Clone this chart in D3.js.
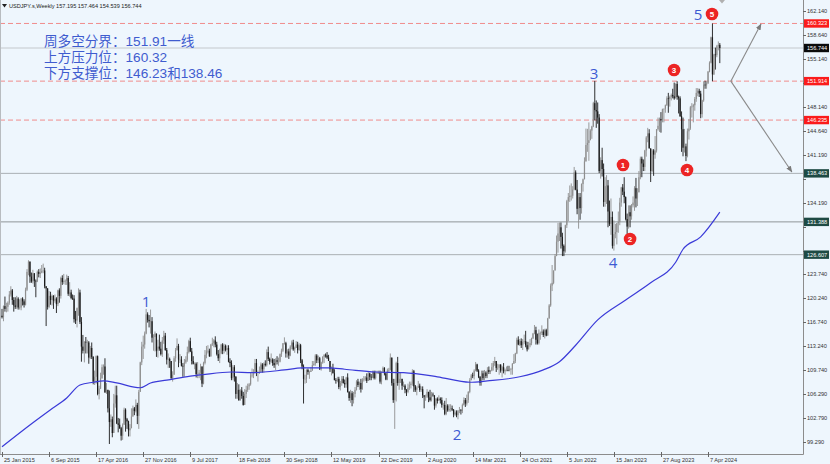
<!DOCTYPE html>
<html><head><meta charset="utf-8">
<script src="https://cdn.jsdelivr.net/npm/d3@7"></script>
<style>
html,body{margin:0;padding:0;background:#eef6fd;}
svg{display:block;}
</style></head><body>
<svg id="c" width="830" height="464"></svg>
<script>
// ---------------- data ----------------
const symbolTitle = "USDJPY.s,Weekly";
const lastOHLC = [157.195, 157.464, 154.539, 156.744];
const firstOpen = 117.7;
// weekly candles per year: [high, low, close]
const w2015 = [[118.7,117.3,117.5],[119.2,116.9,119.1],[120.5,118.3,118.7],[119.6,118.2,119.0],[119.8,118.3,119.6],[121.3,119.3,120.8],[122.0,120.5,121.4],[121.6,119.3,120.0],[120.4,118.3,119.2],[120.4,118.7,119.0],[120.6,118.7,120.2],[120.4,118.6,118.9],[120.1,118.6,118.9],[120.3,118.5,120.2],[120.4,119.2,119.8],[120.1,118.9,119.3],[121.8,119.2,121.5],[124.5,121.3,124.1],[125.8,123.6,125.6],[125.6,122.5,123.4],[124.0,122.5,122.7],[124.4,122.4,123.9],[123.9,121.9,122.8],[123.0,120.4,122.7],[124.3,122.6,124.1],[124.5,123.3,123.8],[124.6,123.2,124.0],[125.1,123.9,124.2],[125.3,123.9,124.3],[124.7,121.7,122.0],[122.0,116.2,121.7],[121.7,118.6,119.0],[121.3,118.8,120.6],[121.2,119.3,120.0],[120.8,119.2,120.6],[120.7,118.7,119.9],[120.8,119.6,120.2],[120.4,118.1,119.4],[121.5,119.1,121.4],[121.7,119.6,120.6],[123.4,120.2,123.2],[123.6,122.2,122.6],[123.8,122.3,122.8],[123.0,122.2,122.8],[123.7,122.2,123.2],[123.5,120.6,120.9],[122.6,120.5,121.1],[121.5,120.1,120.3],[120.8,120.0,120.2]];
const w2016 = [[120.7,116.7,117.2],[118.4,116.5,117.0],[118.9,116.0,118.8],[121.7,117.7,121.1],[121.5,116.5,116.8],[117.5,111.0,113.2],[114.9,112.2,112.6],[114.0,110.9,113.9],[114.6,112.2,113.8],[114.2,112.2,113.8],[114.0,110.7,111.6],[113.3,111.4,113.0],[113.8,111.4,111.7],[111.8,107.7,108.1],[109.7,107.6,108.8],[111.9,107.8,111.8],[111.9,106.1,106.3],[107.5,105.5,107.1],[109.4,107.0,108.6],[110.6,108.5,110.2],[110.6,109.1,110.3],[111.5,106.5,106.5],[107.9,106.3,106.9],[106.9,103.6,104.2],[106.8,99.0,102.2],[103.3,101.5,102.6],[103.0,99.98,100.6],[106.3,100.7,104.9],[107.5,104.3,106.1],[107.5,101.9,102.0],[102.8,100.7,101.8],[102.7,101.2,101.3],[101.5,99.5,100.2],[102.0,99.6,101.8],[104.3,101.8,104.0],[104.2,100.8,102.6],[102.8,101.2,102.3],[102.4,100.1,101.0],[101.9,100.1,101.3],[104.2,101.3,103.0],[104.6,103.0,104.2],[104.4,103.2,103.8],[105.5,103.6,104.7],[105.0,101.9,103.1],[106.9,101.2,106.6],[111.0,106.6,110.9],[113.9,110.5,113.2],[114.8,111.4,113.5],[115.4,112.9,115.1],[118.7,115.0,117.9],[118.2,116.7,117.1],[117.8,116.0,116.9]];
const w2017 = [[118.6,115.1,116.9],[117.5,113.8,114.5],[115.0,112.6,114.6],[115.4,112.5,115.1],[115.0,111.7,112.6],[114.2,111.6,113.2],[114.95,112.6,112.9],[113.9,111.9,112.1],[114.6,111.7,114.1],[115.5,113.6,114.8],[115.2,112.6,112.7],[113.0,110.6,111.3],[112.2,110.1,111.4],[111.6,110.1,111.1],[111.1,108.5,108.6],[109.6,108.1,109.1],[111.8,109.6,111.5],[113.0,111.0,112.7],[114.4,112.6,113.3],[113.6,110.2,111.3],[112.1,110.8,111.3],[111.8,110.3,110.4],[110.8,108.8,110.3],[111.4,108.8,110.9],[111.8,110.7,111.3],[113.2,111.0,112.4],[114.2,112.2,114.0],[114.5,112.4,112.5],[113.0,110.6,111.1],[111.8,110.6,110.7],[110.9,109.9,110.7],[110.9,108.7,109.2],[110.95,108.6,109.2],[109.8,108.6,109.4],[110.7,108.3,110.3],[110.3,107.3,107.8],[111.0,107.7,110.8],[112.7,110.6,112.0],[113.3,111.5,112.5],[113.4,112.2,112.6],[112.9,111.7,111.8],[113.6,111.7,113.5],[114.5,113.3,113.7],[114.3,113.1,114.1],[114.7,113.1,113.5],[113.9,111.9,112.1],[112.7,111.1,111.5],[112.9,110.8,112.2],[113.6,112.1,113.5],[113.7,112.1,112.6],[113.6,112.2,113.3],[113.5,112.5,112.7],[113.4,112.0,113.0]];
const w2018 = [[113.4,110.9,111.0],[111.5,110.2,110.8],[111.2,108.3,108.6],[110.5,108.3,110.2],[110.5,108.1,108.8],[108.9,105.6,106.3],[107.9,105.6,106.9],[107.7,105.3,105.4],[107.0,105.3,106.8],[107.3,105.6,106.0],[106.6,104.6,104.7],[107.0,104.7,106.3],[107.5,105.7,106.9],[107.8,106.6,107.4],[107.9,106.9,107.7],[109.5,107.5,109.0],[110.0,108.7,109.1],[109.9,108.6,109.4],[111.4,109.3,110.8],[111.4,108.9,109.4],[109.7,108.1,109.5],[110.3,109.2,109.5],[110.9,109.5,110.6],[110.8,109.4,109.9],[110.9,109.4,110.7],[111.2,110.3,110.5],[112.8,110.3,112.4],[113.2,111.1,111.4],[111.6,110.6,111.0],[112.2,110.8,111.3],[111.5,110.4,110.8],[111.4,110.1,110.5],[111.5,109.8,111.2],[111.8,110.6,111.0],[111.6,110.4,111.0],[112.2,110.9,112.1],[112.9,111.7,112.6],[113.7,112.4,113.7],[114.55,113.5,113.7],[113.9,111.6,112.2],[112.8,111.6,112.5],[112.9,111.4,111.9],[113.4,111.8,113.2],[114.1,112.8,113.8],[114.2,112.6,112.8],[113.2,112.3,113.0],[114.0,113.0,113.5],[113.9,112.2,112.7],[113.7,112.6,113.4],[113.6,110.8,111.2],[111.4,109.9,110.3],[110.6,104.9,108.5]];
const w2019 = [[109.1,107.8,108.5],[109.9,107.9,109.8],[110.0,109.1,109.5],[109.7,108.5,109.5],[110.2,109.5,109.7],[111.1,109.7,110.5],[111.1,110.4,110.7],[112.1,110.4,111.9],[112.1,110.8,111.2],[111.9,110.8,111.5],[111.7,109.8,109.9],[111.0,109.7,110.9],[111.8,110.7,111.7],[112.1,110.8,112.0],[112.2,111.6,111.9],[112.4,111.4,111.6],[112.0,111.1,111.1],[111.1,109.5,109.9],[110.3,109.0,110.1],[110.7,109.3,109.3],[109.9,108.3,108.3],[108.6,107.8,108.2],[108.8,108.0,108.5],[108.8,107.0,107.3],[108.2,106.8,107.9],[108.9,107.5,108.5],[108.9,107.8,107.9],[108.4,107.2,107.7],[108.8,107.2,108.7],[109.3,106.5,106.6],[106.7,105.3,105.7],[106.9,105.0,106.4],[106.7,104.5,105.4],[106.6,104.9,106.3],[107.3,105.8,106.9],[108.3,106.8,108.1],[108.5,107.3,107.6],[108.1,106.9,107.9],[108.5,106.5,107.0],[108.6,106.9,108.4],[108.9,108.1,108.4],[108.9,108.2,108.7],[109.3,107.9,108.2],[109.5,108.3,109.3],[109.4,108.3,108.8],[109.2,108.3,108.7],[109.7,108.6,109.5],[109.7,108.4,108.6],[109.7,108.4,109.4],[109.7,109.2,109.4],[109.7,109.2,109.4],[109.7,107.8,108.1]];
const w2020 = [[109.6,107.7,109.5],[110.3,109.4,110.1],[110.2,109.0,109.3],[109.4,108.3,108.4],[110.0,108.3,109.7],[110.1,109.5,109.8],[112.2,109.7,111.6],[111.6,107.5,107.9],[108.5,105.0,105.4],[108.5,101.2,107.9],[111.0,105.2,110.8],[111.7,107.5,107.9],[109.4,106.9,108.5],[109.4,107.9,108.5],[108.1,106.9,107.5],[108.1,107.3,107.5],[107.7,106.4,106.9],[107.0,106.0,106.6],[107.8,106.4,107.2],[108.1,106.9,107.6],[108.1,107.1,107.8],[109.9,107.5,109.6],[109.8,106.6,107.4],[107.6,106.6,106.9],[107.4,106.1,107.2],[108.2,107.2,107.5],[107.8,106.6,106.9],[107.4,106.6,107.0],[107.4,105.7,106.1],[106.1,104.2,105.9],[106.2,105.3,105.9],[107.0,105.7,106.6],[106.6,105.1,105.8],[106.9,105.2,105.4],[106.6,105.2,106.2],[106.5,105.9,106.1],[106.1,104.0,104.6],[105.7,104.3,105.6],[105.8,104.9,105.3],[106.1,105.3,105.6],[105.8,104.9,105.4],[105.8,104.3,104.7],[105.0,104.0,104.7],[105.3,103.2,103.4],[105.7,103.2,104.6],[104.8,103.7,103.9],[104.8,103.7,104.1],[104.8,103.7,104.2],[104.6,103.8,104.0],[104.1,102.9,103.3],[103.9,103.1,103.6],[103.9,102.9,103.2]];
const w2021 = [[103.9,102.6,103.9],[104.4,103.5,103.9],[104.1,103.3,103.8],[104.9,103.5,104.7],[105.8,104.6,105.4],[105.7,104.4,104.9],[106.2,104.6,105.4],[106.7,105.0,106.6],[108.6,106.4,108.3],[109.2,108.3,109.0],[109.4,108.6,108.9],[109.9,108.4,109.7],[110.96,109.6,110.6],[110.7,109.5,109.7],[109.9,108.6,108.8],[108.9,107.5,107.9],[109.7,107.5,109.3],[109.7,108.3,108.6],[109.8,108.3,109.4],[109.6,108.6,108.9],[110.2,108.6,109.8],[110.3,109.2,109.5],[109.8,109.2,109.7],[110.8,109.6,110.2],[111.1,109.7,110.8],[111.7,110.4,111.1],[111.1,109.5,110.1],[110.7,109.8,110.1],[110.6,109.1,110.6],[110.6,109.4,109.7],[110.4,108.7,110.2],[110.8,109.3,109.6],[110.0,109.1,109.8],[110.3,109.6,109.8],[110.4,109.6,109.7],[110.4,109.6,109.9],[110.1,109.1,109.9],[110.8,109.1,110.7],[112.1,110.7,111.1],[112.3,110.8,112.2],[114.5,112.1,114.2],[114.7,113.4,113.5],[114.3,113.3,114.0],[114.4,113.0,113.4],[114.3,112.7,113.9],[114.95,113.6,114.0],[115.5,113.1,113.4],[113.9,112.5,112.8],[113.9,112.9,113.4],[114.3,113.1,113.7],[114.5,113.4,114.4],[115.2,114.3,115.1]];
const w2022 = [[116.35,115.0,115.6],[116.1,113.5,114.2],[115.1,113.5,113.7],[115.7,113.5,115.2],[115.4,114.2,115.2],[116.3,114.9,115.4],[115.7,114.6,114.9],[115.8,114.4,115.6],[115.8,114.7,114.8],[117.4,114.8,117.3],[119.4,117.3,119.2],[122.4,119.0,122.1],[125.1,121.3,122.5],[124.3,122.3,124.3],[126.7,124.3,126.4],[129.4,126.5,128.5],[131.25,126.9,129.7],[131.3,128.6,130.6],[131.3,127.5,129.2],[129.8,126.4,127.9],[128.1,126.4,127.1],[130.98,126.9,130.9],[134.6,130.5,134.4],[135.6,131.5,135.0],[136.7,134.3,135.2],[137.0,134.5,135.2],[136.6,134.8,136.1],[139.4,136.0,138.6],[138.9,136.0,136.1],[137.5,132.5,133.3],[135.6,130.4,135.0],[135.6,131.7,133.4],[137.0,132.6,136.9],[137.7,135.8,137.6],[140.8,137.6,140.2],[144.99,140.3,142.6],[144.96,141.6,142.9],[145.9,140.3,143.3],[144.9,143.3,144.7],[145.4,143.5,145.3],[148.9,145.2,148.7],[151.95,146.2,147.7],[149.1,145.1,147.5],[148.8,145.7,146.6],[147.1,138.5,138.8],[140.8,137.7,140.4],[142.2,138.0,139.1],[139.9,133.6,134.3],[137.9,133.6,136.6],[138.2,134.0,136.7],[137.5,130.6,132.9],[134.5,130.8,131.1]];
const w2023 = [[134.8,129.5,132.1],[132.9,127.5,127.9],[131.6,127.2,129.6],[131.1,129.0,129.9],[131.2,128.1,131.2],[132.9,129.8,131.4],[134.9,130.9,134.2],[136.5,133.6,136.4],[136.9,135.3,135.8],[137.9,134.1,135.0],[135.1,131.6,131.8],[132.6,129.6,130.7],[133.8,130.4,132.8],[133.8,130.6,132.2],[134.0,131.7,133.8],[135.1,133.5,134.2],[136.6,133.0,136.3],[137.8,133.5,134.8],[136.3,133.7,135.7],[138.8,135.7,137.9],[140.9,137.6,140.6],[140.9,137.9,139.9],[140.5,138.8,139.4],[141.9,138.8,141.8],[143.9,140.9,143.7],[145.1,143.0,144.3],[144.9,142.1,142.1],[142.1,137.2,138.8],[142.0,138.6,141.8],[142.0,138.1,141.2],[143.9,140.6,141.8],[144.9,141.5,144.9],[146.6,144.7,145.4],[146.6,144.5,146.4],[147.4,144.4,146.2],[147.9,145.9,147.8],[147.9,145.9,147.9],[148.5,147.3,148.4],[149.7,148.3,149.4],[150.2,147.3,149.3],[149.8,148.2,149.6],[150.1,149.1,149.9],[150.8,149.4,149.7],[151.7,149.2,149.4],[151.6,149.4,151.5],[151.9,149.2,149.6],[149.8,147.2,149.4],[149.7,146.7,146.8],[147.5,141.6,144.9],[146.6,140.95,142.2],[144.95,141.5,142.4],[142.8,140.25,141.0],[145.0,140.8,144.6]];
const w2024 = [[146.4,143.4,145.0],[148.3,144.8,148.1],[148.7,146.6,148.2],[148.6,145.9,148.4],[149.6,147.6,149.3],[150.9,148.9,150.2],[150.9,149.7,150.5],[150.8,149.6,150.1],[150.5,146.5,147.1],[149.2,146.6,149.1],[151.9,148.9,151.4],[151.97,150.8,151.3],[151.9,150.8,151.6],[153.4,151.5,153.3],[154.8,153.2,154.6],[158.4,154.5,158.3],[160.32,151.9,152.9],[155.9,152.8,155.8],[156.8,153.6,155.7],[157.2,155.4,157.0],[157.7,156.4,157.2],[157.464,154.539,156.744]];

// moving average (blue line): week index -> value
const maWeeks  = [0,21,33,44,53,62,69,78,94,101,112,128,136,156,170,192,204,222,233,254,273,296,318,330,352,368,379,390,405,424,441,458,463,475,488];
const maValues = [98.6,102.1,104.0,105.7,107.6,108.0,108.2,107.9,107.2,107.9,108.3,108.9,109.1,109.5,109.4,109.8,110.1,110.1,109.9,109.5,109.4,108.8,108.0,108.2,108.8,109.8,111.0,113.4,117.1,120.0,122.5,125.5,127.4,129.2,132.8];

const yTicks = [162.140,158.640,155.140,151.640,148.140,144.640,141.190,137.690,134.190,130.690,127.190,123.740,120.240,116.740,113.240,109.740,106.290,102.790,99.290];
const xTickLabels = ["25 Jan 2015","6 Sep 2015","17 Apr 2016","27 Nov 2016","9 Jul 2017","18 Feb 2018","30 Sep 2018","12 May 2019","22 Dec 2019","2 Aug 2020","14 Mar 2021","24 Oct 2021","5 Jun 2022","15 Jan 2023","27 Aug 2023","7 Apr 2024"];
const xTickWeeks = [0,32,64,96,128,160,192,224,256,288,320,352,384,416,448,480];

const redLevels  = [160.323, 151.914, 146.235];
const grayLevels = [138.463, 131.388, 126.607];
const noteLines = ["周多空分界：151.91一线","上方压力位：160.32","下方支撑位：146.23和138.46"];
// wave labels: [week index, price, text]
const waveLabels = [[97.9,119.7,"1"],[309.4,100.3,"2"],[402.5,152.95,"3"],[415.4,125.5,"4"],[473.2,161.56,"5"]];
const circleLabels = [[422.2,139.68,"1"],[427.0,128.89,"2"],[456.9,153.54,"3"],[465.7,138.96,"4"],[482.7,161.70,"5"]];
// arrows: [startWeek, startPrice, endWeek, endPrice]
const arrows = [[495.5,151.91,516,160.24],[495.5,151.91,537,138.66]];

// ---------------- chart ----------------
const W = 830, H = 464, plotR = 803, plotB = 454;
const svg = d3.select("#c");
svg.append("rect").attr("width",W).attr("height",H).attr("fill","#eef6fd");

const weeks = [].concat(w2015,w2016,w2017,w2018,w2019,w2020,w2021,w2022,w2023,w2024);
const N = weeks.length;
const x = d3.scaleLinear().domain([0, N-1]).range([2, 719.8]);
const y = d3.scaleLinear().domain([99.29, 162.14]).range([442, 11]);

let prev = firstOpen;
const candles = weeks.map((d,i)=>{
  const o = (i===N-1) ? lastOHLC[0] : prev;
  const c = d[2];
  const h = Math.max(d[0],o,c), l = Math.min(d[1],o,c);
  prev = c;
  return {i,o,h,l,c,up:c>=o};
});

const defs = svg.append("defs");
defs.append("clipPath").attr("id","plot").append("rect").attr("x",0).attr("y",0).attr("width",plotR).attr("height",plotB);
defs.append("marker").attr("id","arr").attr("viewBox","0 0 10 10").attr("refX",9).attr("refY",5)
  .attr("markerWidth",6).attr("markerHeight",6).attr("orient","auto")
  .append("path").attr("d","M0,1 L10,5 L0,9 z").attr("fill","#7a7a7a");

const g = svg.append("g").attr("clip-path","url(#plot)");

// horizontal levels
g.append("line").attr("x1",0).attr("x2",plotR).attr("y1",y(lastOHLC[3])).attr("y2",y(lastOHLC[3]))
  .attr("stroke","#c4c8cc").attr("stroke-width",1);
g.selectAll(".gl").data(grayLevels).join("line").attr("x1",0).attr("x2",plotR)
  .attr("y1",d=>y(d)).attr("y2",d=>y(d)).attr("stroke",(d,i)=>i===1?"#8f9598":"#aab0b4").attr("stroke-width",1);
g.selectAll(".rl").data(redLevels).join("line").attr("x1",0).attr("x2",plotR)
  .attr("y1",d=>y(d)).attr("y2",d=>y(d)).attr("stroke","#f08c8c").attr("stroke-width",1).attr("stroke-dasharray","5,3");

// candles
const upCol = "#8e8e8e", dnCol = "#1a1a1a";
const cg = g.append("g");
cg.selectAll("line.w").data(candles).join("line")
  .attr("x1",d=>x(d.i)).attr("x2",d=>x(d.i)).attr("y1",d=>y(d.h)).attr("y2",d=>y(d.l))
  .attr("stroke",d=>d.up?upCol:dnCol).attr("stroke-width",0.9);
cg.selectAll("rect.b").data(candles).join("rect")
  .attr("x",d=>x(d.i)-0.6).attr("width",1.2)
  .attr("y",d=>y(Math.max(d.o,d.c))).attr("height",d=>Math.max(0.6, Math.abs(y(d.o)-y(d.c))))
  .attr("fill",d=>d.up?upCol:dnCol);

// moving average
const maPts = maWeeks.map((w,i)=>[w, maValues[i]]);
g.append("path").datum(maPts)
  .attr("d", d3.line().x(d=>x(d[0])).y(d=>y(d[1])).curve(d3.curveMonotoneX))
  .attr("fill","none").attr("stroke","#3a3ad8").attr("stroke-width",1.2);

// arrows
g.selectAll(".ar").data(arrows).join("line")
  .attr("x1",d=>x(d[0])).attr("y1",d=>y(d[1])).attr("x2",d=>x(d[2])).attr("y2",d=>y(d[3]))
  .attr("stroke","#8a8a8a").attr("stroke-width",1.1).attr("marker-end","url(#arr)");

// wave labels
g.selectAll(".wl").data(waveLabels).join("text")
  .attr("x",d=>x(d[0])).attr("y",d=>y(d[1])).attr("dy","0.36em").attr("text-anchor","middle")
  .attr("font-family","'Open Sans','Noto Sans',sans-serif").attr("font-size",15).attr("fill","#3d5bd3")
  .text(d=>d[2]);
const cl = g.selectAll(".cl").data(circleLabels).join("g").attr("transform",d=>`translate(${x(d[0])},${y(d[1])})`);
cl.append("circle").attr("r",6.3).attr("fill","#ec2424");
cl.append("text").attr("text-anchor","middle").attr("dy","0.35em").attr("font-family","'Liberation Sans',Arial,sans-serif")
  .attr("font-size",8).attr("font-weight","bold").attr("fill","#fff").text(d=>d[2]);

// notes
svg.selectAll(".nt").data(noteLines).join("text")
  .attr("x",44).attr("y",(d,i)=>45.5 + i*16.3)
  .attr("font-family","'Liberation Sans','Noto Sans CJK SC',sans-serif")
  .attr("font-size",13.6).attr("fill","#3f5ccf").text(d=>d);

// header
svg.append("path").attr("d","M2,4 L7,4 L4.5,7.5 z").attr("fill","#222");
svg.append("text").attr("x",9).attr("y",8).attr("font-family","'Liberation Sans',Arial,sans-serif")
  .attr("font-size",5.6).attr("fill","#222")
  .text(symbolTitle + "  " + lastOHLC.map(v=>v.toFixed(3)).join(" "));
// shift marker
svg.append("path").attr("d","M719,0 L725,0 L722,3.5 z").attr("fill","#b0b0b0");

// frame
svg.append("line").attr("x1",0.5).attr("x2",0.5).attr("y1",0).attr("y2",plotB).attr("stroke","#b8bcc0");
svg.append("line").attr("x1",0).attr("x2",plotR+0.5).attr("y1",plotB+0.5).attr("y2",plotB+0.5).attr("stroke","#8c8c8c");
svg.append("line").attr("x1",plotR+0.5).attr("x2",plotR+0.5).attr("y1",0).attr("y2",plotB+0.5).attr("stroke","#8c8c8c");

// y axis
const boxes = [[lastOHLC[3],"#0b0b0b"]].concat(redLevels.map(v=>[v,"#fb1b1b"])).concat(grayLevels.map(v=>[v,"#1e4a44"]));
const ya = svg.append("g");
yTicks.forEach(v=>{
  ya.append("line").attr("x1",plotR).attr("x2",plotR+3).attr("y1",Math.round(y(v))+0.5).attr("y2",Math.round(y(v))+0.5).attr("stroke","#666");
  const hidden = boxes.some(b=>Math.abs(y(b[0])-y(v))<8.5);
  if (!hidden) {
    ya.append("text").attr("x",plotR+4).attr("y",y(v)).attr("dy","0.35em").attr("font-family","'Liberation Sans',Arial,sans-serif")
      .attr("font-size",5.6).attr("fill","#333").text(v.toFixed(3));
  }
});
boxes.forEach(([v,col])=>{
  ya.append("rect").attr("x",plotR+1).attr("y",y(v)-4.2).attr("width",W-plotR-2).attr("height",8.4).attr("fill",col);
  ya.append("text").attr("x",plotR+4).attr("y",y(v)).attr("dy","0.35em").attr("font-family","'Liberation Sans',Arial,sans-serif")
    .attr("font-size",5.6).attr("fill","#fff").text(v.toFixed(3));
});

// x axis
const xa = svg.append("g");
xTickWeeks.forEach((w,i)=>{
  const px = Math.round(x(w))+0.5;
  xa.append("line").attr("x1",px).attr("x2",px).attr("y1",plotB-2).attr("y2",plotB+3).attr("stroke","#666");
  xa.append("text").attr("x",px+1.5).attr("y",461.5).attr("font-family","'Liberation Sans',Arial,sans-serif")
    .attr("font-size",5.6).attr("fill","#333").text(xTickLabels[i]);
});
</script>
</body></html>
